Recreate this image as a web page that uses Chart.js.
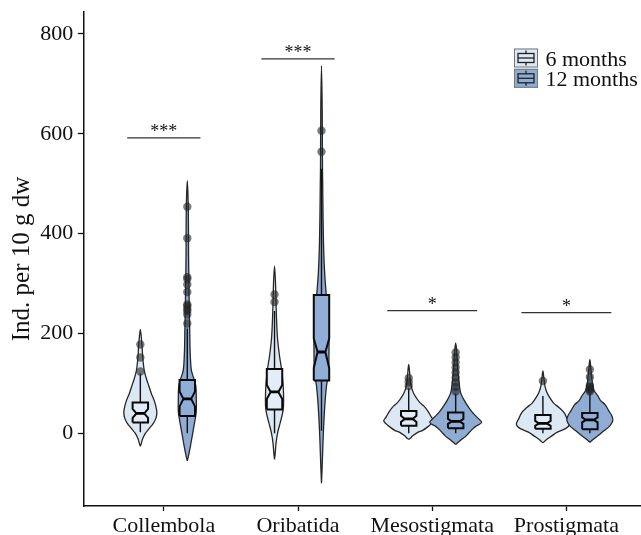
<!DOCTYPE html>
<html>
<head>
<meta charset="utf-8">
<script src="https://cdn.jsdelivr.net/npm/chart.js@4/dist/chart.umd.min.js"></script>
<style>
  html, body { margin: 0; padding: 0; background: #ffffff; }
  #wrap { width: 641px; height: 535px; }
</style>
</head>
<body>
<div id="wrap"><canvas id="c" width="641" height="535"></canvas></div>
<script>
// ---------------- DATA ----------------
const categories = ['Collembola', 'Oribatida', 'Mesostigmata', 'Prostigmata'];
const seriesLabels = ['6 months', '12 months'];
const yTicks = [0, 200, 400, 600, 800];

// box statistics: [lower whisker, Q1, notch low, median, notch high, Q3, upper whisker]
const box6 = [
  [2, 22, 31, 40, 49, 62, 120],
  [0, 48, 69, 83, 97, 129, 245],
  [0, 15, 23, 29, 35, 45, 90],
  [0, 9, 15, 20, 25, 37, 75]
];
const box12 = [
  [0, 35, 54, 69, 84, 107, 210],
  [5, 106, 131, 163, 190, 277, 530],
  [0, 10, 19, 24, 29, 42, 80],
  [0, 8, 22, 27, 32, 41, 80]
];

// outliers
const outliers6 = [
  [124, 152, 178],
  [263, 278],
  [95, 103, 111],
  [105]
];
const outliers12 = [
  [220, 238, 245, 249, 255, 258, 283, 298, 309, 313, 391, 454],
  [564, 606],
  [84, 93, 102, 112, 122, 132, 142, 152, 162],
  [84, 87, 90, 93, 96, 113, 128]
];

// violin outlines: evaluation heights and (relative) kernel density
const violinY6 = [
  [208, 180, 150, 125, 110, 95, 80, 65, 50, 40, 30, 20, 10, 0, -10, -20, -26],
  [335, 300, 260, 230, 190, 155, 129, 100, 80, 55, 40, 20, 0, -20, -40, -52],
  [138, 115, 100, 90, 80, 70, 62, 55, 45, 33, 25, 18, 13, 6, 2, -5, -10, -12],
  [125, 110, 95, 82, 68, 60, 52, 42, 30, 18, 10, 2, -5, -12, -19]
];
const density6 = [
  [0, 1.5, 2.5, 4, 6, 8.5, 11, 14, 16, 16.5, 15.5, 13, 9, 5, 2.5, 1, 0],
  [0, 1, 1.5, 2, 3, 5, 7, 8.5, 9, 9, 8, 5.5, 3, 1.5, 0.7, 0],
  [0, 1.2, 2, 3, 5, 8, 11, 15, 19, 22.5, 25, 22, 19, 14, 9, 4, 1.5, 0],
  [0, 1, 2, 4, 8, 11, 16, 21, 24, 26.5, 23, 14, 9, 4, 0]
];
const violinY12 = [
  [506, 450, 350, 250, 200, 167, 127, 110, 95, 70, 45, 30, 7, -10, -27, -45, -55],
  [736, 650, 530, 500, 430, 367, 320, 277, 240, 200, 160, 120, 95, 55, 7, -30, -60, -100],
  [181, 160, 130, 100, 81, 68, 55, 45, 37, 30, 22, 14, 7, -5, -12, -18, -22],
  [148, 130, 110, 95, 85, 75, 65, 58, 45, 35, 26, 15, 5, -5, -12, -18]
];
const density12 = [
  [0, 1, 1.3, 2, 2.5, 2.8, 4, 6.5, 8.5, 9, 9, 8, 6, 4.5, 3, 1.2, 0],
  [0, 0.7, 1, 1.2, 1.6, 2.2, 3.2, 4.8, 6.5, 7.5, 7.5, 7, 5, 3.3, 2, 1.3, 0.8, 0],
  [0, 1.2, 2, 3.5, 5, 8, 12, 15.5, 19, 22.5, 26, 20, 16, 10.5, 6, 2.5, 0],
  [0, 1, 2, 3, 4.5, 8, 11, 15, 19, 22, 23, 20, 14, 8, 3.5, 0]
];

// significance
const sigLabels = ['***', '***', '*', '*'];
const sigHeights = [592, 750, 246, 242];

// ---------------- STYLE ----------------
const FONT = '"Liberation Serif", "Times New Roman", serif';
const DODGE = 0.175;          // group offset in category units
const VIOLIN_SCALE = 1 / 134.2; // density -> category units
const BOX_HALF = 0.0575;
const NOTCH_HALF = 0.029;
const SIG_HALF = { '***': 0.273, '*': 0.335 };
const fills = ['#dce8f4', '#8eacd4'];
const boxFills = ['#e3edf7', '#90aed6'];

function violinData(center, ys, ds) {
  const pts = [];
  const n = ys.length;
  for (let i = n - 1; i >= 0; i--) pts.push({ x: center + ds[i] * VIOLIN_SCALE, y: ys[i] });
  for (let i = 1; i < n; i++) pts.push({ x: center - ds[i] * VIOLIN_SCALE, y: ys[i] });
  return pts;
}
function boxData(c, b) {
  const [lo, q1, nl, md, nh, q3, hi] = b;
  return [
    { x: c - BOX_HALF, y: q1 }, { x: c - BOX_HALF, y: nl }, { x: c - NOTCH_HALF, y: md },
    { x: c - BOX_HALF, y: nh }, { x: c - BOX_HALF, y: q3 }, { x: c + BOX_HALF, y: q3 },
    { x: c + BOX_HALF, y: nh }, { x: c + NOTCH_HALF, y: md }, { x: c + BOX_HALF, y: nl },
    { x: c + BOX_HALF, y: q1 }, { x: c - BOX_HALF, y: q1 }
  ];
}

const datasets = [];
const groups = [
  { boxes: box6, outs: outliers6, vy: violinY6, vd: density6, off: -DODGE, s: 0 },
  { boxes: box12, outs: outliers12, vy: violinY12, vd: density12, off: DODGE, s: 1 }
];
const base = { pointRadius: 0, pointHoverRadius: 0, pointHitRadius: 0, showLine: true };

groups.forEach(g => {
  categories.forEach((cat, i) => {
    const c = i + 1 + g.off;
    datasets.push(Object.assign({}, base, {
      label: seriesLabels[g.s] + ' violin ' + cat,
      data: violinData(c, g.vy[i], g.vd[i]),
      fill: 'shape', backgroundColor: fills[g.s], borderColor: '#262626', borderWidth: 1.3,
      tension: 0.35, order: 10 - g.s
    }));
    const b = g.boxes[i];
    datasets.push(Object.assign({}, base, {
      label: seriesLabels[g.s] + ' whisker ' + cat,
      data: [{ x: c, y: b[0] }, { x: c, y: b[6] }],
      borderColor: '#111', borderWidth: 1.4, fill: false, order: 6
    }));
    datasets.push(Object.assign({}, base, {
      label: seriesLabels[g.s] + ' box ' + cat,
      data: boxData(c, b),
      fill: 'shape', backgroundColor: boxFills[g.s], borderColor: '#0a0a0a', borderWidth: 2,
      tension: 0, order: 5
    }));
    datasets.push(Object.assign({}, base, {
      label: seriesLabels[g.s] + ' median ' + cat,
      data: [{ x: c - NOTCH_HALF, y: b[3] }, { x: c + NOTCH_HALF, y: b[3] }],
      borderColor: '#000', borderWidth: 2.8, fill: false, order: 4
    }));
    datasets.push({
      label: seriesLabels[g.s] + ' outliers ' + cat,
      data: g.outs[i].map(v => ({ x: c, y: v })),
      showLine: false, pointRadius: 4.2, pointHoverRadius: 4.2,
      pointBackgroundColor: 'rgba(35,35,35,0.6)', pointBorderWidth: 0, order: 2
    });
  });
});
categories.forEach((cat, i) => {
  const h = SIG_HALF[sigLabels[i]];
  datasets.push(Object.assign({}, base, {
    label: 'significance ' + cat,
    data: [{ x: i + 1 - h, y: sigHeights[i] }, { x: i + 1 + h, y: sigHeights[i] }],
    borderColor: '#333', borderWidth: 1.3, fill: false, order: 1
  }));
});

// ---------------- PLUGINS ----------------
const annotatePlugin = {
  id: 'annotate',
  afterDatasetsDraw(chart) {
    const { ctx, scales: { x, y } } = chart;
    ctx.save();
    ctx.fillStyle = '#111';
    ctx.font = '18px ' + FONT;
    ctx.textAlign = 'center';
    ctx.textBaseline = 'alphabetic';
    sigLabels.forEach((s, i) => {
      ctx.fillText(s, x.getPixelForValue(i + 1), y.getPixelForValue(sigHeights[i]) - 1);
    });
    ctx.restore();
  },
  afterDraw(chart) {
    const { ctx, chartArea } = chart;
    ctx.save();
    const left = chartArea.right - 127;
    const top0 = chartArea.top + 36.5;
    const w = 24, h = 19, gap = 20.3;
    seriesLabels.forEach((lab, k) => {
      const t = top0 + k * gap;
      ctx.fillStyle = fills[k];
      ctx.fillRect(left, t, w, h);
      ctx.strokeStyle = '#777';
      ctx.lineWidth = 1;
      ctx.strokeRect(left + 0.5, t + 0.5, w - 1, h - 1);
      ctx.strokeStyle = '#222';
      ctx.lineWidth = 1.3;
      ctx.beginPath();
      ctx.moveTo(left + w / 2, t + 2); ctx.lineTo(left + w / 2, t + h - 2);
      ctx.stroke();
      ctx.fillStyle = fills[k];
      ctx.fillRect(left + 4, t + 5, w - 8, h - 10);
      ctx.strokeRect(left + 4, t + 5, w - 8, h - 10);
      ctx.beginPath();
      ctx.moveTo(left + 4, t + h / 2); ctx.lineTo(left + w - 4, t + h / 2);
      ctx.stroke();
      ctx.fillStyle = '#111';
      ctx.font = '22px ' + FONT;
      ctx.textAlign = 'left';
      ctx.textBaseline = 'alphabetic';
      ctx.fillText(lab, left + 31.5, t + 17.5);
    });
    ctx.restore();
  }
};

Chart.defaults.font.family = FONT;
Chart.defaults.color = '#111';

new Chart(document.getElementById('c'), {
  type: 'line',
  data: { datasets },
  options: {
    responsive: false,
    animation: false,
    events: [],
    layout: { autoPadding: false, padding: { top: 12, right: 0, bottom: 0, left: 0 } },
    plugins: { legend: { display: false }, tooltip: { enabled: false } },
    scales: {
      x: {
        type: 'linear', min: 0.4, max: 4.556,
        afterFit(s) { s.height = 29; s.paddingLeft = 0; s.paddingRight = 0; },
        afterBuildTicks(s) { s.ticks = categories.map((_, i) => ({ value: i + 1 })); },
        ticks: {
          font: { size: 22 }, color: '#111', padding: 2, maxRotation: 0, autoSkip: false,
          callback: (v) => categories[Math.round(v) - 1] || ''
        },
        grid: { drawOnChartArea: false, drawTicks: true, tickLength: 5, tickColor: '#111', tickWidth: 1.3 },
        border: { display: true, color: '#111', width: 1.5 }
      },
      y: {
        type: 'linear', min: -145.5, max: 844,
        afterFit(s) { s.width = 83.3; s.paddingTop = 0; s.paddingBottom = 0; },
        afterBuildTicks(s) { s.ticks = yTicks.map(v => ({ value: v })); },
        ticks: { font: { size: 22 }, color: '#111', padding: 4.5 },
        grid: { drawOnChartArea: false, drawTicks: true, tickLength: 5.5, tickColor: '#111', tickWidth: 1.3 },
        border: { display: true, color: '#111', width: 1.5 },
        title: {
          display: true, text: 'Ind. per 10 g dw', color: '#111',
          font: { size: 25 }, padding: { top: 7, bottom: 0 }
        }
      }
    }
  },
  plugins: [annotatePlugin]
});
</script>
</body>
</html>
